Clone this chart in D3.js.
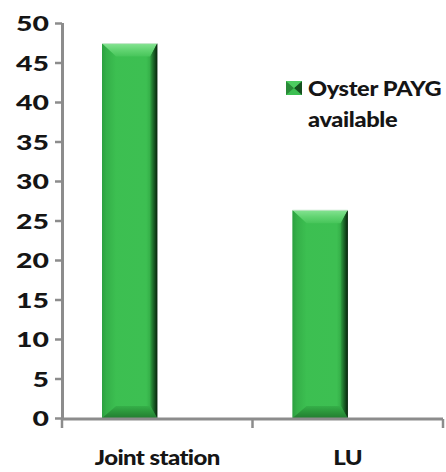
<!DOCTYPE html>
<html>
<head>
<meta charset="utf-8">
<script src="https://cdn.jsdelivr.net/npm/d3@7/dist/d3.min.js"></script>
<style>
  html, body { margin: 0; padding: 0; background: #ffffff; }
  svg { display: block; }
  text { font-family: Lato, "Open Sans", "DejaVu Sans", sans-serif; font-weight: 900; fill: #151515; }
</style>
</head>
<body>
<svg id="chart" width="446" height="472"></svg>
<script>
// Stations with Oyster pay-as-you-go available
const categories = ["Joint station", "LU"];
const seriesName = "Oyster PAYG available";
const legendLines = ["Oyster PAYG", "available"];
const values = [47.4, 26.3];
const yTicks = [0, 5, 10, 15, 20, 25, 30, 35, 40, 45, 50];

const W = 446, H = 472;
const margin = { top: 23, right: 3, bottom: 54, left: 62 };
const plotW = W - margin.left - margin.right;
const plotH = H - margin.top - margin.bottom;

const svg = d3.select("#chart");
const g = svg.append("g").attr("transform", `translate(${margin.left},${margin.top})`);

const x = d3.scaleBand().domain(categories).range([0, plotW]).paddingInner(0).paddingOuter(0);
const y = d3.scaleLinear().domain([0, 50]).range([plotH, 0]);

// gradients for the bevelled bar faces
const defs = svg.append("defs");
function linGrad(id, x1, y1, x2, y2, stops) {
  const gr = defs.append("linearGradient").attr("id", id)
    .attr("x1", x1).attr("y1", y1).attr("x2", x2).attr("y2", y2);
  stops.forEach(s => gr.append("stop").attr("offset", s[0]).attr("stop-color", s[1]));
}
linGrad("faceGrad", 0, 0, 1, 0, [[0, "#2fa844"], [0.08, "#3cbf51"], [0.8, "#3dbf52"], [0.88, "#34ad47"], [0.95, "#1d6f2b"], [1, "#0b2f12"]]);
linGrad("topGrad", 0, 0, 0, 1, [[0, "#85e392"], [0.5, "#62d472"], [1, "#47c55a"]]);
linGrad("botGrad", 0, 0, 0, 1, [[0, "#35b049"], [0.5, "#2b963b"], [1, "#237e31"]]);
linGrad("rightGrad", 0, 0, 1, 0, [[0, "#2f9f40"], [0.5, "#1a6126"], [1, "#07240c"]]);
linGrad("leftGrad", 0, 0, 1, 0, [[0, "#2a9a3c"], [1, "#3cbf51"]]);

// bar geometry inside its category band
const barOffset = 0.21, barFrac = 0.29;

function bevelBar(sel, x0, x1, top, bottom, bt, bl, br, bb) {
  sel.append("rect").attr("x", x0).attr("y", top).attr("width", x1 - x0).attr("height", bottom - top)
    .attr("fill", "url(#faceGrad)");
  sel.append("polygon").attr("points", [[x0, top], [x1, top], [x1 - br, top + bt], [x0 + bl, top + bt]].join(" "))
    .attr("fill", "url(#topGrad)");
  sel.append("polygon").attr("points", [[x0, top], [x0 + bl, top + bt], [x0 + bl, bottom - bb], [x0, bottom]].join(" "))
    .attr("fill", "url(#leftGrad)").attr("opacity", 0.6);
  sel.append("polygon").attr("points", [[x1, top], [x1, bottom], [x1 - br, bottom - bb], [x1 - br, top + bt]].join(" "))
    .attr("fill", "url(#rightGrad)");
  sel.append("polygon").attr("points", [[x0, bottom], [x0 + bl, bottom - bb], [x1 - br, bottom - bb], [x1, bottom]].join(" "))
    .attr("fill", "url(#botGrad)");
  sel.append("rect").attr("x", x0).attr("y", top - 0.5).attr("width", x1 - x0).attr("height", 1)
    .attr("fill", "#c9e8cd");
}

const bars = g.append("g").attr("class", "bars");
categories.forEach((c, i) => {
  const x0 = x(c) + x.bandwidth() * barOffset;
  const x1 = x0 + x.bandwidth() * barFrac;
  const bg = bars.append("g");
  bevelBar(bg, x0, x1, y(values[i]), y(0), 13, 14, 7, 12);
});

// y axis
const yAxis = g.append("g").call(d3.axisLeft(y).tickValues(yTicks).tickSize(7).tickSizeOuter(0).tickPadding(0));
yAxis.select(".domain").attr("stroke", "#8c8c8c").attr("stroke-width", 3).attr("d", `M0.5,0V${plotH + 1.5}`);
yAxis.selectAll(".tick line").attr("stroke", "#8c8c8c").attr("stroke-width", 2.5);
yAxis.selectAll(".tick text")
  .attr("x", null).attr("dy", "0.36em")
  .style("font-size", "21px")
  .attr("transform", "translate(-13,0) scale(1.35,1)")
  .attr("text-anchor", "end");

// x axis: baseline with ticks at category boundaries
const xg = g.append("g").attr("transform", `translate(0,${plotH + 1})`);
xg.append("line").attr("x1", 0).attr("x2", plotW).attr("y1", 0).attr("y2", 0)
  .attr("stroke", "#8c8c8c").attr("stroke-width", 3);
const bounds = categories.map(c => x(c)).concat([x.range()[1]]);
xg.selectAll("line.tk").data(bounds).join("line").attr("class", "tk")
  .attr("x1", d => d).attr("x2", d => d).attr("y1", 0).attr("y2", 9)
  .attr("stroke", "#8c8c8c").attr("stroke-width", 2.5);
xg.selectAll("text.cat").data(categories).join("text").attr("class", "cat")
  .attr("transform", d => `translate(${x(d) + x.bandwidth() / 2},${46}) scale(1.2,1)`)
  .attr("text-anchor", "middle")
  .style("font-size", "20px")
  .attr("letter-spacing", "-0.5px")
  .text(d => d);

// legend
const lg = svg.append("g").attr("transform", "translate(286,81)");
const mk = lg.append("g");
mk.append("rect").attr("width", 16).attr("height", 14).attr("fill", "#3cbf51");
mk.append("polygon").attr("points", "0,0 8,7 0,14").attr("fill", "#2a8a38");
mk.append("polygon").attr("points", "16,0 8,7 16,14").attr("fill", "#15501f");
mk.append("polygon").attr("points", "0,0 16,0 8,7").attr("fill", "#4dcb60");
lg.selectAll("text").data(legendLines).join("text")
  .attr("transform", (d, i) => `translate(22,${15 + i * 31}) scale(1.18,1)`)
  .style("font-size", "20px")
  .attr("letter-spacing", "-0.3px")
  .text(d => d);
</script>
</body>
</html>
